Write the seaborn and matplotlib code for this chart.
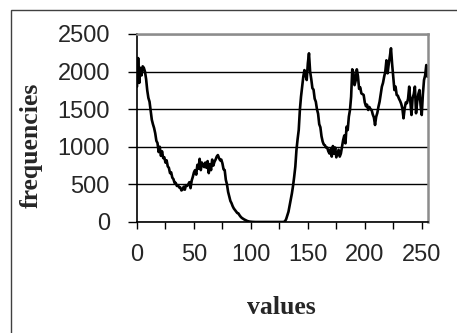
import numpy as np
import pandas as pd
import matplotlib
matplotlib.use('Agg')
import matplotlib.pyplot as plt
import matplotlib.patches as patches
import seaborn as sns

# histogram, one value per grey level 0..255
freq_0_99 = [1800, 2180, 1850, 2050, 1950, 2070, 2050, 2000, 1900, 1750,
             1650, 1600, 1480, 1360, 1300, 1250, 1180, 1080, 1050, 930,
             1000, 880, 940, 850, 860, 790, 820, 740, 720, 650,
             660, 590, 570, 520, 520, 480, 490, 460, 460, 420,
             430, 470, 430, 490, 480, 500, 530, 450, 550, 600,
             660, 690, 630, 760, 710, 840, 690, 790, 750, 730,
             790, 720, 810, 650, 770, 690, 830, 750, 800, 830,
             870, 890, 850, 820, 830, 780, 700, 690, 560, 500,
             400, 340, 280, 250, 210, 180, 160, 140, 120, 115,
             90, 70, 55, 45, 35, 27, 20, 12, 8, 5]
freq_100_127 = [3, 2, 1, 0, 0, 0, 0, 0, 0, 0,
                0, 0, 0, 0, 0, 0, 0, 0, 0, 0,
                0, 0, 0, 0, 0, 0, 0, 0]
freq_128_255 = [0, 2, 10, 40, 90, 137, 220, 300, 380, 480, 600, 735,
                957, 1100, 1223, 1490, 1666, 1800, 1932, 2020, 1950, 1888,
                2110, 2243, 2000, 1900, 1780, 1760, 1640, 1600, 1500, 1440,
                1300, 1260, 1140, 1070, 1030, 1020, 990, 990, 940, 910,
                970, 870, 1010, 910, 990, 860, 910, 960, 870, 910,
                1000, 1090, 1150, 1046, 1267, 1223, 1400, 1490, 1666, 2030,
                1990, 1820, 1880, 2030, 1940, 1770, 1790, 1710, 1700, 1690,
                1590, 1540, 1560, 1490, 1530, 1500, 1490, 1430, 1390, 1290,
                1400, 1450, 1533, 1600, 1700, 1800, 1850, 1932, 2000, 2150,
                1977, 2100, 2200, 2310, 2100, 1932, 1755, 1800, 1690, 1680,
                1640, 1610, 1570, 1510, 1379, 1510, 1590, 1580, 1640, 1800,
                1600, 1423, 1650, 1700, 1800, 1446, 1600, 1700, 1755, 1550,
                1423, 1700, 1888, 1950, 2087, 1932]

freqs = freq_0_99 + freq_100_127 + freq_128_255
values = list(range(len(freqs)))

df = pd.DataFrame({'values': values, 'frequencies': freqs})

sns.set_style('white')
plt.rcParams['font.family'] = ['Liberation Sans', 'DejaVu Sans']

fig = plt.figure(figsize=(4.57, 3.33), dpi=100)
ax = fig.add_axes([137/457, 1 - 222/333, (428 - 137)/457, (222 - 34)/333])

sns.lineplot(data=df, x='values', y='frequencies', color='black', linewidth=1.9, ax=ax)

ax.set_xlim(0, 255.5)
ax.set_ylim(0, 2500)
ax.set_xticks(np.arange(0, 251, 50))
ax.set_xticks(np.arange(25, 256, 50), minor=True)
ax.set_yticks(np.arange(0, 2501, 500))
ax.yaxis.grid(True, color='black', linewidth=1.0)
ax.set_axisbelow(True)

ax.tick_params(axis='y', which='major', direction='out', length=6.5, width=1, color='black',
               pad=13, labelsize=17)
ax.tick_params(axis='x', which='both', direction='out', length=5, width=1, color='black',
               pad=11, labelsize=17, bottom=True)
ax.tick_params(axis='y', left=True)

for side in ['left', 'bottom']:
    ax.spines[side].set_color('black')
    ax.spines[side].set_linewidth(1.2)
for side in ['top', 'right']:
    ax.spines[side].set_visible(True)
    ax.spines[side].set_color('#8c8c8c')
    ax.spines[side].set_linewidth(1.8)

ax.set_xlabel('')
ax.set_ylabel('')
fig.text(281/457, 1 - 308/333, 'values', family='Liberation Serif', fontweight='bold',
         fontsize=18.5, ha='center', va='center')
fig.text(31.5/457, 1 - 145.5/333, 'frequencies', family='Liberation Serif', fontweight='bold',
         fontsize=18.5, ha='center', va='center', rotation=90)

# outer chart border (right and bottom fall outside the picture)
border = patches.Rectangle((11/457, -0.1), 1.2, 1.1 - 10/333, transform=fig.transFigure,
                           fill=False, edgecolor='#404040', linewidth=1.0, clip_on=False)
fig.patches.append(border)

fig.savefig('out.png', dpi=100)
